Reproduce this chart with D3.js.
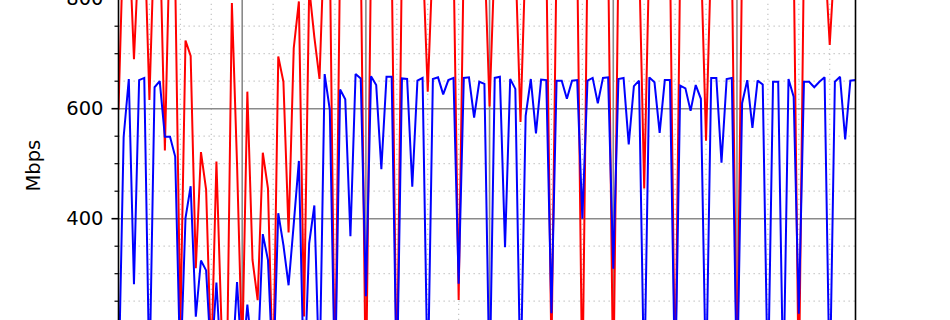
<!DOCTYPE html>
<html><head><meta charset="utf-8">
<script src="https://cdn.jsdelivr.net/npm/d3@7"></script>
<style>html,body{margin:0;padding:0;background:#fff;overflow:hidden}</style>
</head><body>
<svg id="c" width="950" height="320"></svg>
<script>
// Throughput samples (Mbps), one every 10 minutes
const blueSeries = [
  90,549,654,281,652,656,105,639,650,549,549,513,120,401,459,222,324,306,140,284,
  120,100,120,285,130,244,150,140,372,325,110,410,352,279,390,505,90,355,424,100,
  663,598,95,635,617,368,663,655,259,659,643,490,658,658,90,655,654,458,651,656,
  90,654,657,626,652,656,282,656,657,584,649,645,90,656,658,348,654,636,90,587,
  654,555,653,652,228,651,651,618,651,652,400,651,656,610,656,657,309,654,656,535,
  641,651,90,657,648,556,652,652,90,642,637,596,643,618,90,656,656,502,654,656,
  85,610,652,565,651,644,85,649,649,85,654,622,227,649,649,639,649,657,85,649,
  658,544,651,652
];
const redSeries = [
  598,930,925,690,900,930,616,930,930,524,930,840,200,724,696,310,521,453,137,504,
  200,90,792,500,150,631,325,252,520,455,100,695,649,375,710,795,222,820,730,654,
  930,890,80,885,880,885,880,885,70,880,885,880,885,880,75,885,880,885,880,885,
  631,880,885,880,885,880,252,885,880,885,880,885,604,880,885,880,885,880,576,885,
  880,885,880,885,150,880,885,880,885,880,80,885,880,885,880,885,80,880,885,880,
  885,880,455,885,880,885,880,885,80,880,885,880,885,880,542,885,880,885,880,885,
  80,880,885,880,885,880,885,880,885,880,885,880,80,885,880,885,880,885,716,880,
  885,880,885,880
];
const yTickLabels = [400, 600, 800];
const yLabel = "Mbps";

const svg = d3.select("#c");
const L = 118.5, R = 855.5, T = -111.3, B = 438.7;
const x = d3.scaleLinear().domain([0, blueSeries.length - 1]).range([L, R]);
const y = d3.scaleLinear().domain([0, 1000]).range([B, T]);

svg.append("defs").append("clipPath").attr("id", "clip")
  .append("rect").attr("x", L).attr("y", T).attr("width", R - L).attr("height", B - T);

const g = svg.append("g");
// minor grid
const xMinor = d3.range(0, blueSeries.length, 6).filter(d => d % 24 !== 0);
const yMinor = d3.range(0, 1001, 50).filter(d => d % 200 !== 0);
const xMajor = d3.range(24, blueSeries.length, 24);
const yMajor = d3.range(0, 1001, 200);
const minorStyle = s => s.attr("stroke", "#c4c4c4").attr("stroke-width", 1.2).attr("stroke-dasharray", "1.3,3.7");
g.selectAll(".xm").data(xMinor).join("line").attr("x1", d => x(d)).attr("x2", d => x(d)).attr("y1", T).attr("y2", B).call(minorStyle);
g.selectAll(".ym").data(yMinor).join("line").attr("y1", d => y(d)).attr("y2", d => y(d)).attr("x1", L).attr("x2", R).call(minorStyle);
const majorStyle = s => s.attr("stroke", "#8a8a8a").attr("stroke-width", 1.6);
g.selectAll(".xM").data(xMajor).join("line").attr("x1", d => x(d)).attr("x2", d => x(d)).attr("y1", T).attr("y2", B).call(majorStyle);
g.selectAll(".yM").data(yMajor).join("line").attr("y1", d => y(d)).attr("y2", d => y(d)).attr("x1", L).attr("x2", R).call(majorStyle);

const line = d3.line().x((d, i) => x(i)).y(d => y(d));
const plot = svg.append("g").attr("clip-path", "url(#clip)");
plot.append("path").datum(redSeries).attr("d", line).attr("fill", "none")
  .attr("stroke", "#ff0000").attr("stroke-width", 2).attr("stroke-linejoin", "miter").attr("stroke-miterlimit", 2);
plot.append("path").datum(blueSeries).attr("d", line).attr("fill", "none")
  .attr("stroke", "#0000ff").attr("stroke-width", 2).attr("stroke-linejoin", "miter").attr("stroke-miterlimit", 2);

// spines
svg.append("line").attr("x1", L).attr("x2", L).attr("y1", T).attr("y2", B).attr("stroke", "#000").attr("stroke-width", 1.6);
svg.append("line").attr("x1", R).attr("x2", R).attr("y1", T).attr("y2", B).attr("stroke", "#000").attr("stroke-width", 1.6);

// y axis ticks
svg.selectAll(".tM").data(yMajor).join("line").attr("x1", L - 7).attr("x2", L).attr("y1", d => y(d)).attr("y2", d => y(d)).attr("stroke", "#000").attr("stroke-width", 1.6);
svg.selectAll(".tm").data(yMinor).join("line").attr("x1", L - 4).attr("x2", L).attr("y1", d => y(d)).attr("y2", d => y(d)).attr("stroke", "#000").attr("stroke-width", 1.2);
svg.selectAll(".tl").data(yTickLabels).join("text").attr("x", L - 15).attr("y", d => y(d))
  .attr("text-anchor", "end").attr("dominant-baseline", "central")
  .attr("font-family", "DejaVu Sans").attr("font-size", 19.5).attr("fill", "#000").text(d => d);

svg.append("text").attr("transform", `translate(40,${(T + B) / 2 + 2}) rotate(-90)`)
  .attr("text-anchor", "middle").attr("font-family", "DejaVu Sans").attr("font-size", 19.5).attr("fill", "#000").text(yLabel);
</script>
</body></html>
